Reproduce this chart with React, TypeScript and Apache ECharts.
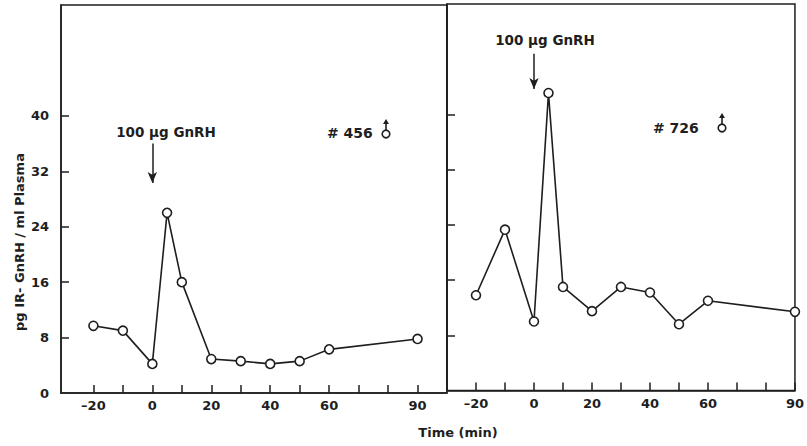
import React, { useEffect, useRef } from "react";
import * as echarts from "echarts";

const timesLeft = [-20, -10, 0, 5, 10, 20, 30, 40, 50, 60, 90];
const valuesLeft = [9.7, 9.0, 4.2, 26.0, 16.0, 4.9, 4.6, 4.2, 4.6, 6.3, 7.8];
const timesRight = [-20, -10, 0, 5, 10, 20, 30, 40, 50, 60, 90];
const valuesRight = [13.8, 23.3, 10.0, 43.1, 15.0, 11.5, 15.0, 14.2, 9.6, 13.0, 11.4];
const xTickValues = [-20, -10, 0, 10, 20, 30, 40, 50, 60, 70, 80, 90];
const xLabelValues = [-20, 0, 20, 40, 60, 90];
const yTickValues = [8, 16, 24, 32, 40];
const yLabelValues = [0, 8, 16, 24, 32, 40];
const injectionLabel = "100 µg GnRH";
const leftId = "# 456";
const rightId = "# 726";
const yTitle = "pg IR- GnRH / ml Plasma";
const xTitle = "Time (min)";

const INK = "#1e1e1e";
const FONT = "DejaVu Sans";

function maleSymbol(cx: number, cy: number) {
  return {
    type: "group",
    children: [
      { type: "circle", shape: { cx, cy, r: 3.8 }, style: { fill: "#fff", stroke: INK, lineWidth: 1.6 } },
      { type: "line", shape: { x1: cx, y1: cy - 4, x2: cx, y2: cy - 12 }, style: { stroke: INK, lineWidth: 1.6 } },
      { type: "polygon", shape: { points: [[cx - 3, cy - 10], [cx + 3, cy - 10], [cx, cy - 15]] }, style: { fill: INK } },
    ],
  };
}

function App() {
  const ref = useRef<HTMLDivElement>(null);
  useEffect(() => {
    document.body.style.margin = "0";
    const chart = echarts.init(ref.current!, null, { renderer: "svg" });
    const xAxisBase = (gridIndex: number, min: number, max: number, labels: boolean) => ({
      type: "value",
      gridIndex,
      min,
      max,
      splitLine: { show: false },
      axisLine: { show: true, onZero: false, lineStyle: { color: INK, width: 1.5 } },
      axisTick: {
        show: true,
        inside: true,
        length: 8,
        customValues: xTickValues,
        lineStyle: { color: INK, width: 1.5 },
      },
      axisLabel: {
        show: labels,
        customValues: xLabelValues,
        margin: 6,
        color: INK,
        fontFamily: FONT,
        fontWeight: "bold",
        fontSize: 13,
        formatter: (v: number) => String(v).replace("-", "–"),
      },
    });
    const yAxisBase = (gridIndex: number, labels: boolean) => ({
      type: "value",
      gridIndex,
      min: 0,
      max: 56,
      splitLine: { show: false },
      axisLine: { show: true, onZero: false, lineStyle: { color: INK, width: 1.5 } },
      axisTick: {
        show: true,
        inside: true,
        length: 8,
        customValues: yTickValues,
        lineStyle: { color: INK, width: 1.5 },
      },
      axisLabel: {
        show: labels,
        customValues: yLabelValues,
        margin: 12,
        color: INK,
        fontFamily: FONT,
        fontWeight: "bold",
        fontSize: 13,
      },
    });
    const seriesBase = (idx: number, xs: number[], ys: number[], arrowFrom: number, arrowTo: number) => ({
      type: "line",
      xAxisIndex: idx,
      yAxisIndex: idx,
      data: xs.map((x, i) => [x, ys[i]]),
      symbol: "circle",
      symbolSize: 9,
      clip: false,
      lineStyle: { color: INK, width: 1.6 },
      itemStyle: { color: "#fff", borderColor: INK, borderWidth: 1.6 },
      markLine: {
        silent: true,
        symbol: ["none", "arrow"],
        symbolSize: [7, 11],
        label: { show: false },
        lineStyle: { color: INK, width: 1.5, type: "solid" },
        data: [[{ coord: [0, arrowFrom] }, { coord: [0, arrowTo] }]],
      },
    });
    const textStyle = (size: number) => ({
      fill: INK,
      fontFamily: FONT,
      fontWeight: "bold",
      fontSize: size,
    });
    chart.setOption({
      animation: false,
      backgroundColor: "#ffffff",
      grid: [
        { left: 61, top: 5, width: 386, height: 388, show: true, borderColor: INK, borderWidth: 1.5 },
        { left: 447, top: 4, width: 352, height: 386.5, show: true, borderColor: INK, borderWidth: 1.5 },
      ],
      xAxis: [xAxisBase(0, -31, 100, true), xAxisBase(1, -30, 90, true)],
      yAxis: [yAxisBase(0, true), yAxisBase(1, false)],
      series: [
        seriesBase(0, timesLeft, valuesLeft, 36.0, 30.3),
        seriesBase(1, timesRight, valuesRight, 48.8, 43.7),
      ],
      graphic: [
        { type: "text", x: 166, y: 132, style: { ...textStyle(13.5), text: injectionLabel, textAlign: "center", textVerticalAlign: "middle" } },
        { type: "text", x: 545, y: 40, style: { ...textStyle(13.5), text: injectionLabel, textAlign: "center", textVerticalAlign: "middle" } },
        { type: "text", x: 327, y: 133, style: { ...textStyle(14), text: leftId, textAlign: "left", textVerticalAlign: "middle" } },
        { type: "text", x: 653, y: 128, style: { ...textStyle(14), text: rightId, textAlign: "left", textVerticalAlign: "middle" } },
        maleSymbol(386, 134),
        maleSymbol(722, 128),
        { type: "text", x: 19, y: 242, rotation: Math.PI / 2, style: { ...textStyle(13), text: yTitle, textAlign: "center", textVerticalAlign: "middle" } },
        { type: "text", x: 458, y: 432, style: { ...textStyle(13), text: xTitle, textAlign: "center", textVerticalAlign: "middle" } },
      ],
    });
    return () => chart.dispose();
  }, []);
  return <div ref={ref} style={{ width: 807, height: 446 }} />;
}

export default App;
